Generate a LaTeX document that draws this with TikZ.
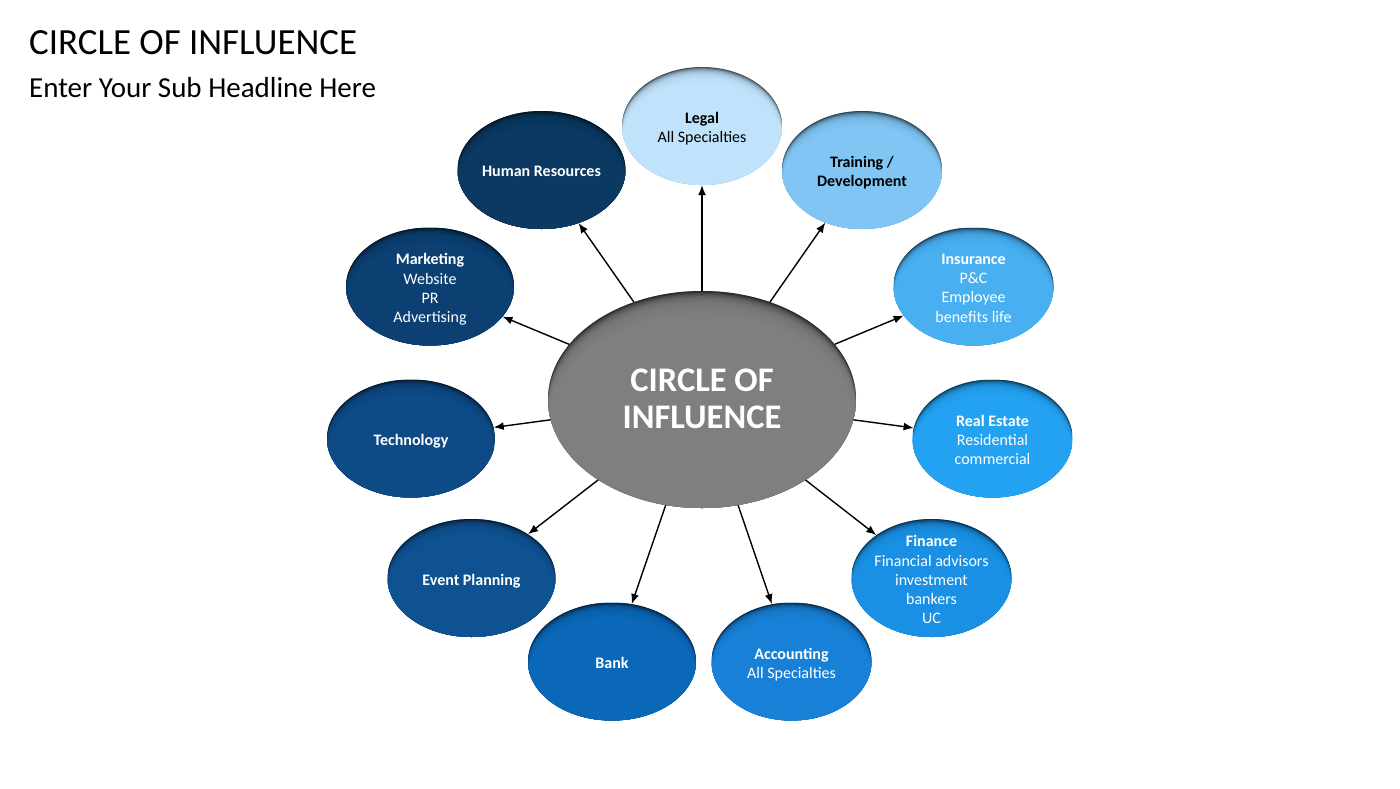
\documentclass[tikz,border=0pt]{standalone}
\usepackage{fontspec}
\setmainfont{Carlito}
\usetikzlibrary{shapes.geometric,arrows.meta}
\definecolor{cHR}{HTML}{0B3962}
\definecolor{cMK}{HTML}{0C4072}
\definecolor{cTE}{HTML}{0E4A85}
\definecolor{cEV}{HTML}{0F5292}
\definecolor{cBK}{HTML}{0B68B8}
\definecolor{cAC}{HTML}{1880D6}
\definecolor{cFI}{HTML}{1A90E4}
\definecolor{cRE}{HTML}{24A2F2}
\definecolor{cIN}{HTML}{48AFF1}
\definecolor{cTR}{HTML}{80C5F3}
\definecolor{cLE}{HTML}{C0E2FB}
\definecolor{cCE}{HTML}{7F7F7F}
\tikzset{
  bub/.style n args={4}{ellipse, inner sep=0pt, draw=none,
    minimum width={2*#2}, minimum height={2*#3}, fill=#1,
    path picture={
      \fill[#1!35!black] (path picture bounding box.south west) rectangle (path picture bounding box.north east);
      \foreach \s in {1,...,12}{
        \fill[#1, opacity=0.3] ([yshift=-\s*#4]path picture bounding box.center) ellipse [x radius=#2, y radius=#3];
      }
      \fill[#1] ([yshift=-13*#4]path picture bounding box.center) ellipse [x radius=#2, y radius=#3];
    }},
  btxt/.style={align=center, inner sep=0pt, yshift=-3pt, font=\fontsize{16}{19.2}\selectfont},
  arr/.style={-{Latex[length=10pt,width=8pt]}, line width=1.4pt, black},
}
\newcommand{\dsc}{\vphantom{gy}}
\begin{document}
\begin{tikzpicture}[x=1pt,y=-1pt]
\useasboundingbox (0,0) rectangle (1400,788);
\fill[white] (0,0) rectangle (1400,788);

\node[anchor=base west, inner sep=0pt, font=\fontsize{36.9}{44}\selectfont] (title) at (29,54) {CIRCLE OF INFLUENCE};
\node[anchor=base west, inner sep=0pt, font=\fontsize{29}{35}\selectfont] (sub) at (29,97) {Enter Your Sub Headline Here};

% bubbles
\node[bub={cHR}{84pt}{59pt}{1.1pt}] (hr) at (541.5,170) {};
\node[bub={cMK}{84pt}{59pt}{1.1pt}] (mk) at (430,286.5) {};
\node[bub={cTE}{84pt}{59pt}{1.1pt}] (te) at (411,438.5) {};
\node[bub={cEV}{84pt}{59pt}{1.1pt}] (ev) at (471.5,578) {};
\node[bub={cBK}{84pt}{59pt}{1.1pt}] (bk) at (612,661.5) {};
\node[bub={cAC}{80pt}{59pt}{1.1pt}] (ac) at (791.5,661.5) {};
\node[bub={cFI}{80pt}{59pt}{1.1pt}] (fi) at (931.5,578) {};
\node[bub={cRE}{80pt}{59pt}{1.1pt}] (re) at (992.5,438.5) {};
\node[bub={cIN}{80pt}{59pt}{1.1pt}] (in) at (973.5,286.5) {};
\node[bub={cTR}{80pt}{59pt}{1.1pt}] (tr) at (862,170) {};
\node[bub={cLE}{80pt}{59pt}{1.1pt}] (le) at (702,126) {};
\node[bub={cCE}{154pt}{108.5pt}{1.7pt}] (C) at (702,399.5) {};

% texts
\node[btxt, text=white] (hrT) at (hr) {\textbf{Human Resources}\dsc};
\node[btxt, text=white] (mkT) at (mk) {\textbf{Marketing}\\Website\\PR\\Advertising\dsc};
\node[btxt, text=white] (teT) at (te) {\textbf{Technology}\dsc};
\node[btxt, text=white] (evT) at (ev) {\textbf{Event Planning}\dsc};
\node[btxt, text=white] (bkT) at (bk) {\textbf{Bank}\dsc};
\node[btxt, text=white] (acT) at (ac) {\textbf{Accounting}\\All Specialties\dsc};
\node[btxt, text=white] (fiT) at (fi) {\textbf{Finance}\\Financial advisors\\investment\\bankers\\UC\dsc};
\node[btxt, text=white] (reT) at (re) {\textbf{Real Estate}\\Residential\\commercial\dsc};
\node[btxt, text=white] (inT) at (in) {\textbf{Insurance}\\P\&C\\Employee\\benefits life\dsc};
\node[btxt, text=black] (trT) at (tr) {\textbf{Training /}\\\textbf{Development}\dsc};
\node[btxt, text=black] (leT) at (le) {\textbf{Legal}\\All Specialties\dsc};
\node[align=center, inner sep=0pt, text=white, yshift=1pt, font=\bfseries\fontsize{34.5}{37}\selectfont] (CT) at (C) {CIRCLE OF\\INFLUENCE};

% arrows
\foreach \t in {hr,mk,te,ev,bk,ac,fi,re,in,tr,le}{
  \draw[arr] (C) -- (\t);
}
\end{tikzpicture}
\end{document}
